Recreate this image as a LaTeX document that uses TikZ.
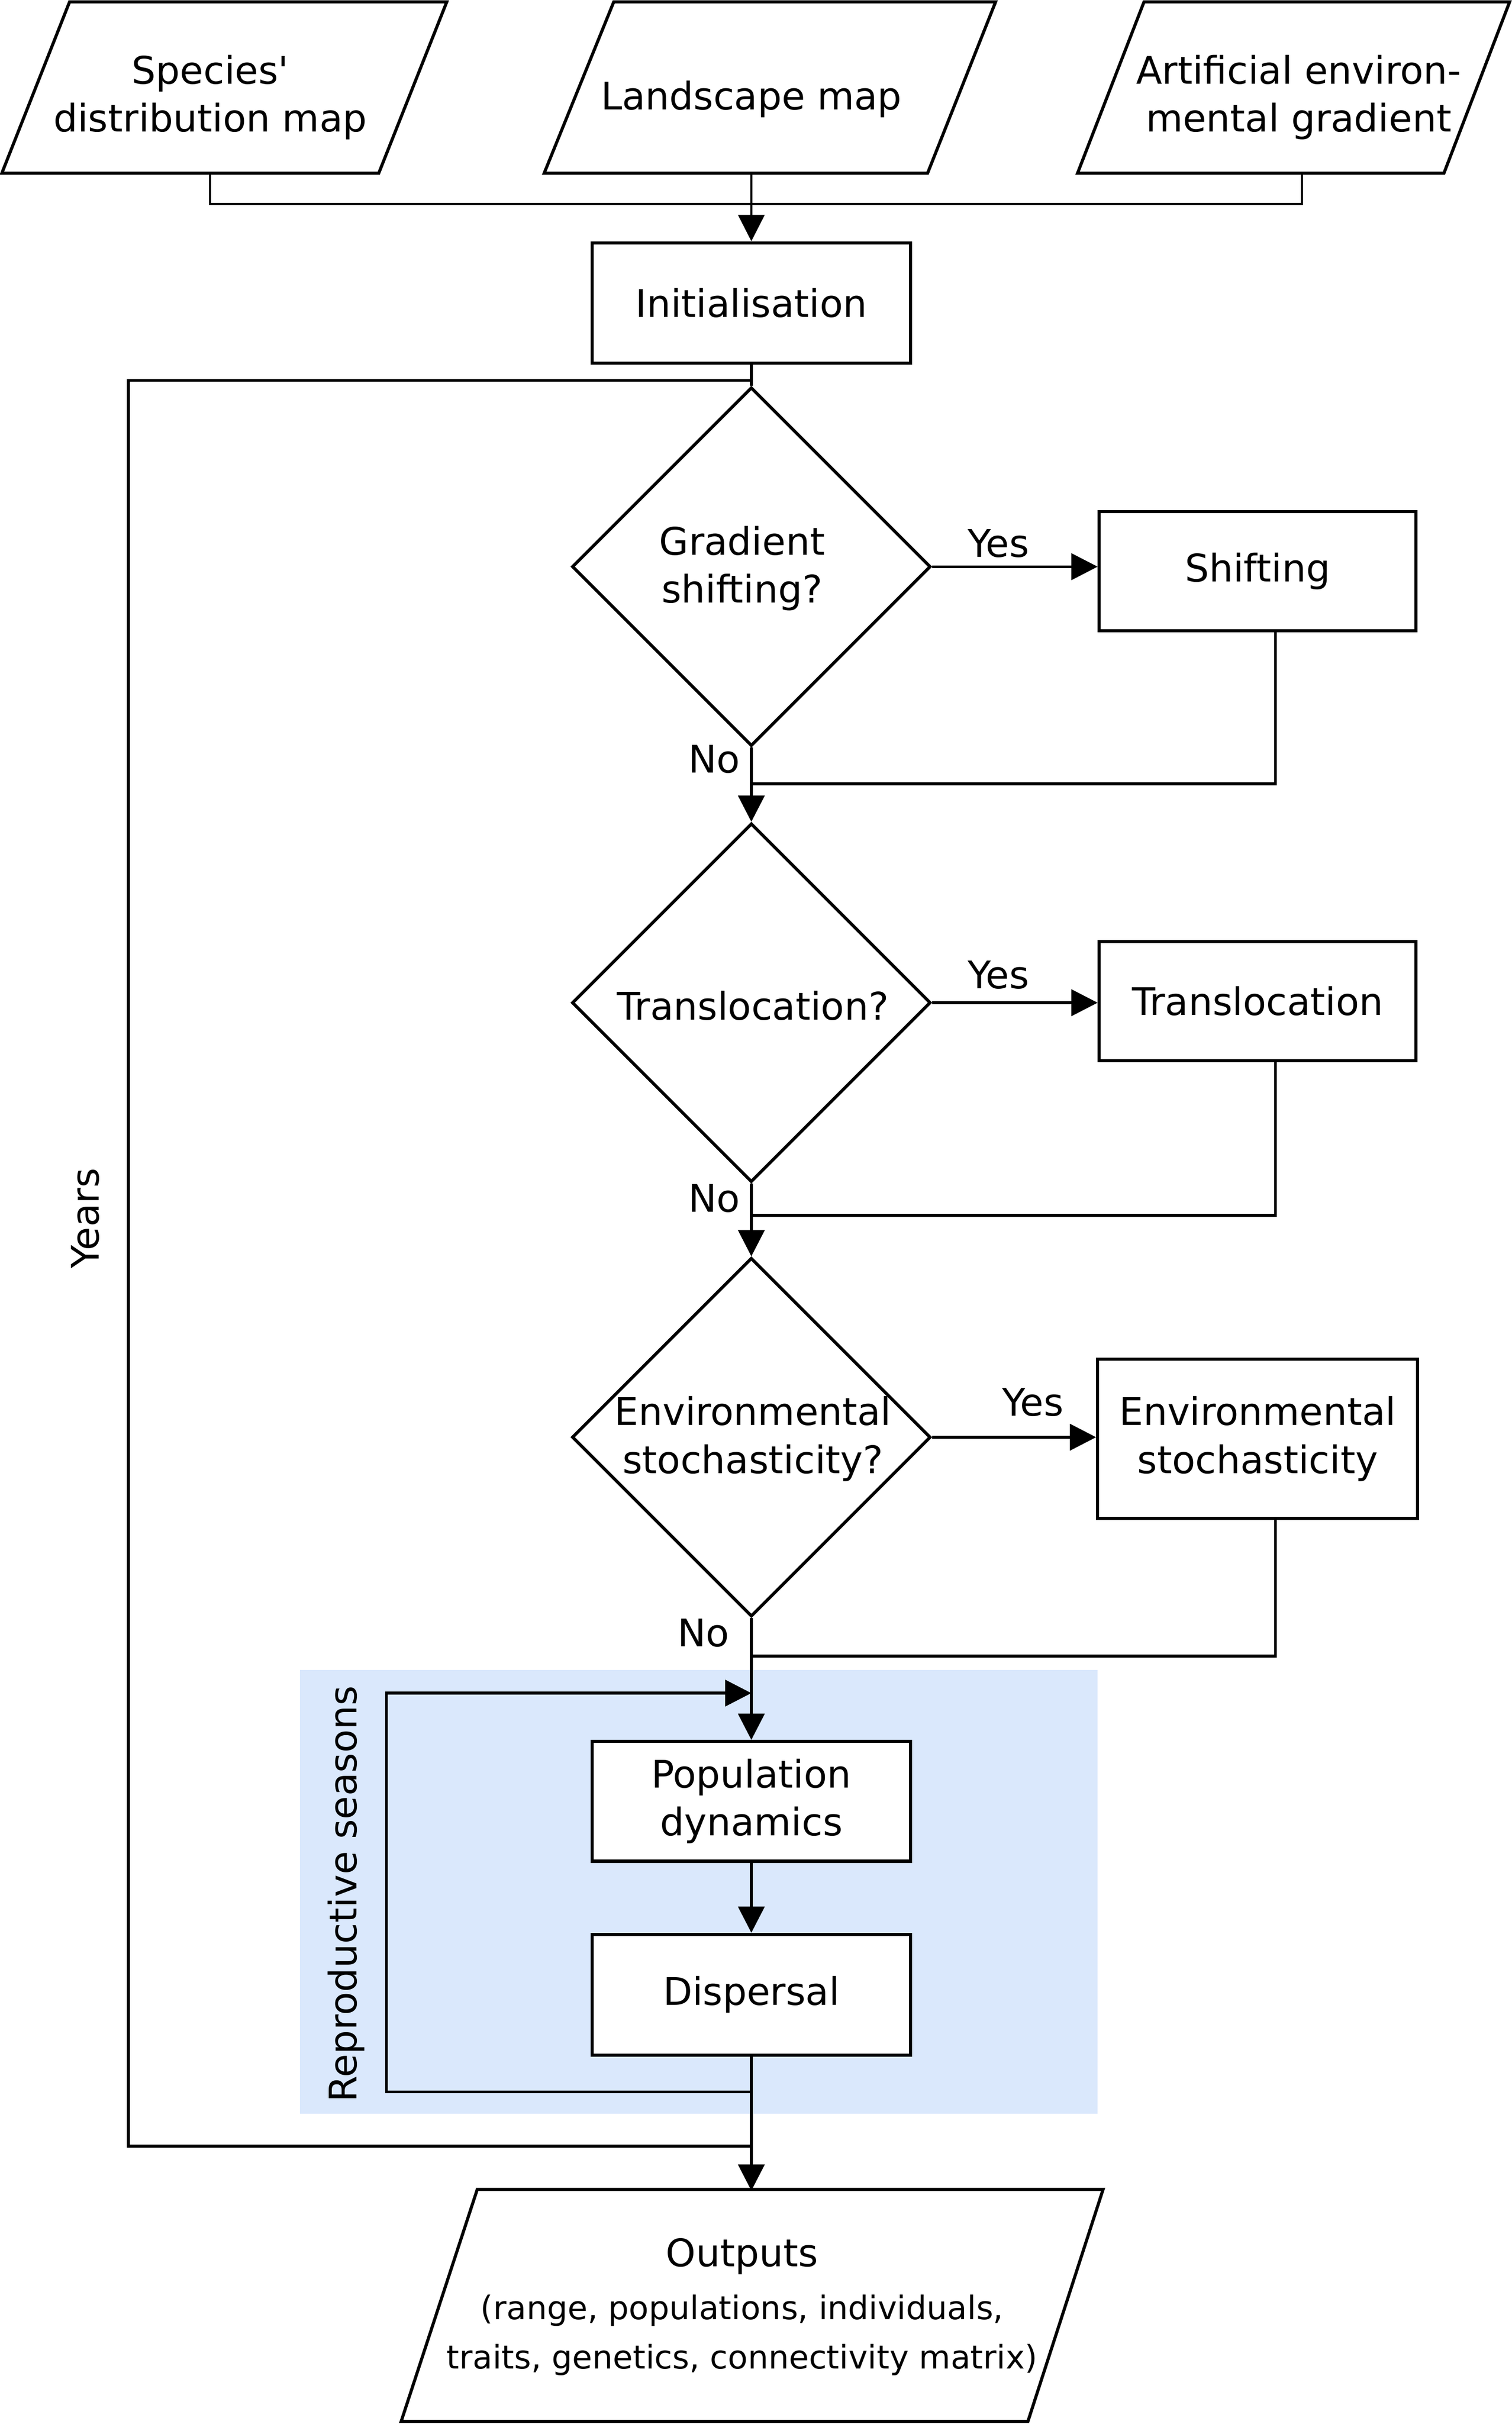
\documentclass[tikz,border=0pt]{standalone}
\usepackage{fontspec}
\setmainfont{DejaVu Sans}
\usetikzlibrary{shapes.geometric,arrows.meta,calc}
\definecolor{bluefill}{HTML}{DAE8FC}
\begin{document}
\begin{tikzpicture}[x=1pt,y=-1pt,
  every node/.style={font=\fontsize{24.6}{31}\selectfont},
  boxnode/.style={draw, line width=2pt, rectangle, minimum width=206pt, minimum height=78pt, inner sep=0pt, align=center, fill=white},
  decision/.style={draw, line width=2pt, diamond, minimum width=232pt, minimum height=232pt, inner sep=0pt, aspect=1, fill=white},
  dtext/.style={align=center, inner sep=0pt},
  textnode/.style={inner sep=0pt, align=center},
  outline/.style={draw, line width=2pt, line join=miter, fill=white},
  conn/.style={draw, line width=1.8pt},
  thinconn/.style={draw, line width=1.3pt},
  arr/.style={conn, -{Triangle[length=17pt,width=17pt]}},
  lbl/.style={inner sep=0pt}]
\useasboundingbox (0,0) rectangle (978,1567.7);

% container
\node[fill=bluefill, minimum width=516pt, minimum height=287pt, inner sep=0pt] (seasons) at (452,1223.5) {};
\node[lbl, rotate=90] (seasonslbl) at (224,1225) {Reproductive seasons};

% input parallelograms
\draw[outline] (1.2,112) -- (45,1.2) -- (289,1.2) -- (245,112) -- cycle;
\draw[outline] (352,112) -- (397,1.2) -- (644,1.2) -- (600,112) -- cycle;
\draw[outline] (697,112) -- (740,1.2) -- (976.5,1.2) -- (934,112) -- cycle;
\node[textnode, minimum width=200pt, minimum height=98pt] (sp) at (136,63) {Species\textquotesingle\\distribution map};
\node[textnode, minimum width=200pt, minimum height=96pt] (ls) at (486,64) {Landscape map};
\node[textnode, minimum width=200pt, minimum height=98pt] (af) at (840,63) {Artificial environ-\\mental gradient};

% output parallelogram
\draw[outline] (308.7,1416) -- (713.5,1416) -- (664.9,1566) -- (259.5,1566) -- cycle;
\node[textnode, minimum height=150pt] (out) at (480,1492) {Outputs\\[3pt]\fontsize{21}{31.5}\selectfont (range, populations, individuals,\\[1pt]\fontsize{21}{31.5}\selectfont traits, genetics, connectivity matrix)};

% process nodes
\node[boxnode] (init) at (486,196) {Initialisation};
\node[decision, label={[dtext, xshift=-6pt, yshift=-1pt]center:Gradient\\shifting?}] (d1) at (486,366.5) {};
\node[boxnode, minimum width=205pt, minimum height=77pt] (shift) at (813.5,369.5) {Shifting};
\node[decision, label={[dtext, xshift=1pt, yshift=-2pt]center:Translocation?}] (d2) at (486,648.5) {};
\node[boxnode, minimum width=205pt, minimum height=77pt] (trans) at (813.5,647.5) {Translocation};
\node[decision, label={[dtext, xshift=1pt, yshift=-1pt]center:Environmental\\stochasticity?}] (d3) at (486,929.5) {};
\node[boxnode, minimum width=207pt, minimum height=103pt] (env) at (813.5,930.5) {Environmental\\stochasticity};
\node[boxnode, minimum height=77.5pt] (pop) at (486,1165) {Population\\dynamics};
\node[boxnode] (disp) at (486,1290) {Dispersal};

% top connectors
\coordinate (jtop) at (486,132);
\draw[thinconn] (sp.south) -- (sp.south |- jtop) -- ($(af.south |- jtop)+(2,0)$) -- ($(af.south)+(2,0)$);
\draw[thinconn, -{Triangle[length=17pt,width=17pt]}] (ls.south) -- (init.north);
\draw[conn] (init.south) -- (d1.north);

% decisions
\draw[arr] (d1.east) -- (d1.east -| shift.west) node[lbl, pos=0.4, above=5pt] {Yes};
\draw[arr] (d2.east) -- (d2.east -| trans.west) node[lbl, pos=0.4, above=8pt] {Yes};
\draw[arr] (d3.east) -- (d3.east -| env.west);
\node[lbl] (yes3) at (668,907) {Yes};

\coordinate (j1) at (825,507);
\draw[conn] (shift.south -| j1) -- (j1) -- (d1.south |- j1);
\draw[arr] (d1.south) -- (d2.north);
\node[lbl] (no1) at (462,491) {No};

\coordinate (j2) at (825,786);
\draw[conn] (trans.south -| j2) -- (j2) -- (d2.south |- j2);
\draw[arr] (d2.south) -- (d3.north);
\node[lbl] (no2) at (462,775) {No};

\coordinate (j3) at (825,1071);
\draw[conn] (env.south -| j3) -- (j3) -- (d3.south |- j3);
\draw[arr] (d3.south) -- (pop.north);
\node[lbl] (no3) at (455,1056) {No};

% seasons loop
\draw[arr] (pop.south) -- (disp.north);
\coordinate (lb) at (486,1353);
\coordinate (lt) at (486,1095);
\draw[arr] (lb) -- ++(-236,0) |- (lt);

% years loop
\coordinate (yb) at (486,1388);
\coordinate (yt) at (486,246);
\draw[conn] (yb) -- ++(-403,0) |- (yt);
\node[lbl, rotate=90] (years) at (55,788) {Years};

% to outputs
\draw[arr] (disp.south) -- (disp.south |- out.north);
\end{tikzpicture}
\end{document}
